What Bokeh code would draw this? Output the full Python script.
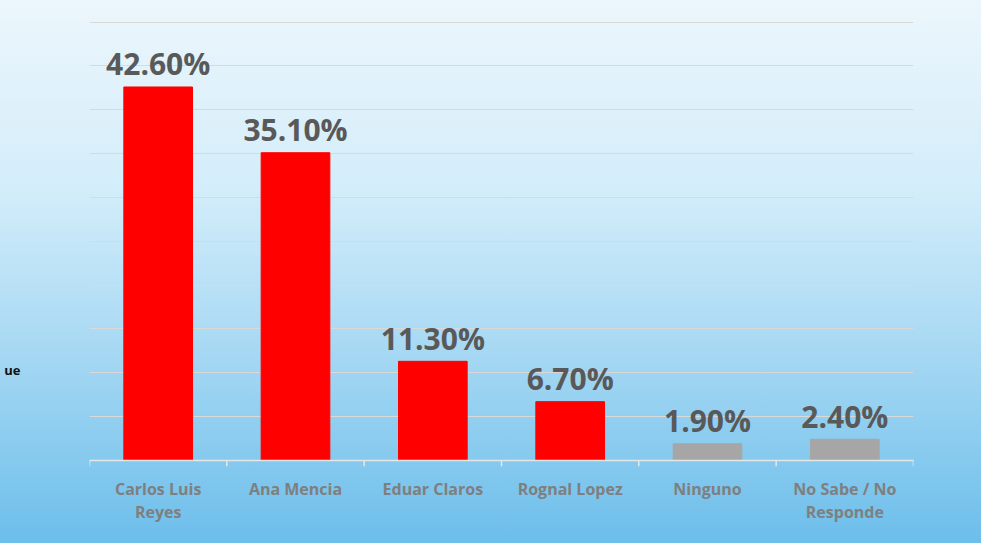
from bokeh.plotting import figure
from bokeh.models import ColumnDataSource, FactorRange, Range1d, FixedTicker, LinearAxis
from bokeh.transform import dodge
from bokeh.core.properties import value
from bokeh.embed import file_html
from bokeh.resources import INLINE

categories = ["Carlos Luis\nReyes", "Ana Mencia", "Eduar Claros", "Rognal Lopez",
              "Ninguno", "No Sabe / No\nResponde"]
values = [42.6, 35.1, 11.3, 6.7, 1.9, 2.4]
labels = ["42.60%", "35.10%", "11.30%", "6.70%", "1.90%", "2.40%"]
colors = ["#ff0000", "#ff0000", "#ff0000", "#ff0000", "#a6a6a6", "#a6a6a6"]
grid_ticks = [0, 5, 10, 15, 20, 25, 30, 35, 40, 45, 50]
legend_stub = "ue"   # cut-off legend text at the left edge
legend_stub_y = 10.3

src = ColumnDataSource(dict(cat=categories, val=values, lab=labels, col=colors))

p = figure(width=981, height=543, x_range=FactorRange(*categories),
           y_range=Range1d(-0.7, 50.3), output_backend="svg", toolbar_location=None,
           y_axis_location=None, min_border_left=89, min_border_right=68,
           min_border_top=19, min_border_bottom=77)
p.background_fill_color = None
p.border_fill_color = None
p.outline_line_color = None
p.styles = {"background": "linear-gradient(to bottom, #ecf6fc 0%, #d3edfa 35%, #a6d8f3 65%, #6cbeeb 100%)"}

p.xgrid.grid_line_color = None
p.ygrid.ticker = FixedTicker(ticks=grid_ticks)
p.ygrid.grid_line_color = "#d9d9d9"
p.ygrid.grid_line_width = 1

p.vbar(x="cat", top="val", width=0.5, bottom=0, color="col", source=src)

# boundary tick marks below baseline
p.segment(x0=dodge("cat", -0.5, range=p.x_range), y0=0,
          x1=dodge("cat", -0.5, range=p.x_range), y1=-0.7,
          line_color="#e6e6e6", line_width=1.5, source=src)
last = ColumnDataSource(dict(cat=categories[-1:]))
p.segment(x0=dodge("cat", 0.5, range=p.x_range), y0=0,
          x1=dodge("cat", 0.5, range=p.x_range), y1=-0.7,
          line_color="#e6e6e6", line_width=1.5, source=last)
p.hspan(y=[0], line_color="#e6e6e6", line_width=1.5)

p.text(x="cat", y="val", text="lab", source=src, text_align="center",
       text_baseline="alphabetic", y_offset=-23, text_font=value("Open Sans"),
       text_font_style="bold", text_font_size="30px", text_color="#595959")

ax = p.xaxis[0]
ax.axis_line_color = None
ax.major_tick_line_color = None
ax.minor_tick_line_color = None
ax.major_label_standoff = 5
ax.major_label_text_font = "Open Sans"
ax.major_label_text_font_style = "bold"
ax.major_label_text_font_size = "16px"
ax.major_label_text_color = "#7f7f7f"
ax.major_label_text_line_height = 1.05

ly = LinearAxis(ticker=FixedTicker(ticks=[legend_stub_y]),
                major_label_overrides={legend_stub_y: legend_stub},
                axis_line_color=None, major_tick_line_color=None,
                minor_tick_line_color=None, major_tick_out=0, major_tick_in=0,
                major_label_standoff=69, major_label_text_font="Open Sans",
                major_label_text_font_style="bold",
                major_label_text_font_size="13px",
                major_label_text_color="#111111")
p.add_layout(ly, "left")

open("out.html", "w").write(file_html(p, INLINE))
